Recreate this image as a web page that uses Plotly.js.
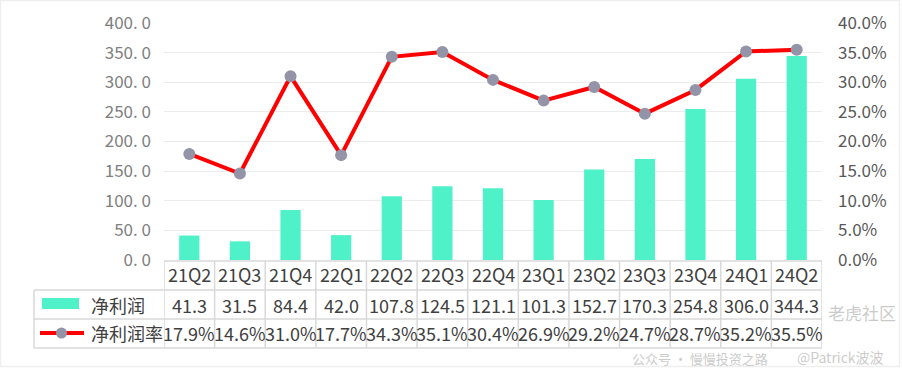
<!DOCTYPE html>
<html>
<head>
<meta charset="utf-8">
<script src="https://cdn.plot.ly/plotly-3.0.1.min.js"></script>
<style>html,body{margin:0;padding:0;background:#fff;}#chart{width:902px;height:372px;}</style>
</head>
<body>
<div id="chart"></div>
<script>
const categories = ["21Q2","21Q3","21Q4","22Q1","22Q2","22Q3","22Q4","23Q1","23Q2","23Q3","23Q4","24Q1","24Q2"];
const netProfit = [41.3, 31.5, 84.4, 42.0, 107.8, 124.5, 121.1, 101.3, 152.7, 170.3, 254.8, 306.0, 344.3];
const netMargin = [17.9, 14.6, 31.0, 17.7, 34.3, 35.1, 30.4, 26.9, 29.2, 24.7, 28.7, 35.2, 35.5];
const leftTickVals = [0, 50, 100, 150, 200, 250, 300, 350, 400];
const leftTickText = ["0. 0", "50. 0", "100. 0", "150. 0", "200. 0", "250. 0", "300. 0", "350. 0", "400. 0"];
const seriesNames = ["净利润", "净利润率"];
const watermarks = ["老虎社区", "公众号 · 慢慢投资之路", "@Patrick波波"];

const FONT = '"Microsoft YaHei", "Noto Sans CJK SC", "Noto Sans", sans-serif';
const GRID = '#d9d9d9';

const plotTop = 23, plotBottom = 260, plotH = plotBottom - plotTop;
const plotLeft = 164, plotRight = 822, plotW = plotRight - plotLeft;
const py = p => (plotBottom - p) / plotH;   // pixel row -> paper y
const px = p => (p - plotLeft) / plotW;     // pixel col -> paper x

const rowY = [261, 290, 319, 348];

const traces = [
  {
    type: 'bar', x: categories, y: netProfit, name: seriesNames[0],
    marker: {color: '#4FF2C8'}, width: 0.4, yaxis: 'y', hoverinfo: 'x+y'
  },
  {
    type: 'scatter', mode: 'lines+markers', x: categories, y: netMargin.map(v => v / 100),
    name: seriesNames[1], yaxis: 'y2',
    line: {color: '#FF0000', width: 4},
    marker: {color: '#9394A7', size: 12}
  }
];

const shapes = [];
// faint outer frame
shapes.push({type: 'rect', xref: 'paper', yref: 'paper', x0: px(0.5), x1: px(899.5), y0: py(366.5), y1: py(0.5), line: {color: '#eeeeee', width: 1.5}, fillcolor: 'rgba(0,0,0,0)', layer: 'below'});
const lineStyle = {color: GRID, width: 1.5};
// horizontal table lines
shapes.push({type: 'line', xref: 'paper', yref: 'paper', x0: 0, x1: 1, y0: py(rowY[0]), y1: py(rowY[0]), line: lineStyle});
for (let r = 1; r < rowY.length; r++) {
  shapes.push({type: 'line', xref: 'paper', yref: 'paper', x0: px(34), x1: 1, y0: py(rowY[r]), y1: py(rowY[r]), line: lineStyle});
}
// vertical table lines
shapes.push({type: 'line', xref: 'paper', yref: 'paper', x0: px(34), x1: px(34), y0: py(rowY[1]), y1: py(rowY[3]), line: lineStyle});
for (let i = 0; i <= categories.length; i++) {
  shapes.push({type: 'line', xref: 'x', yref: 'paper', x0: i - 0.5, x1: i - 0.5, y0: py(rowY[0]), y1: py(rowY[3]), line: lineStyle});
}
// legend glyphs in table
shapes.push({type: 'rect', xref: 'paper', yref: 'paper', x0: px(42), x1: px(79), y0: py(309), y1: py(298), fillcolor: '#4FF2C8', line: {width: 0}});
shapes.push({type: 'line', xref: 'paper', yref: 'paper', x0: px(40), x1: px(84), y0: py(333), y1: py(333), line: {color: '#FF0000', width: 4}});
shapes.push({type: 'circle', xref: 'paper', yref: 'paper', x0: px(56), x1: px(67), y0: py(338.5), y1: py(327.5), fillcolor: '#9394A7', line: {width: 0}});

const annotations = [];
const txt = '#404040';
annotations.push({xref: 'paper', yref: 'paper', x: px(89), y: py(304.5), xanchor: 'left', yanchor: 'middle', text: seriesNames[0], showarrow: false, font: {family: FONT, size: 18, color: txt}});
annotations.push({xref: 'paper', yref: 'paper', x: px(89), y: py(333.5), xanchor: 'left', yanchor: 'middle', text: seriesNames[1], showarrow: false, font: {family: FONT, size: 18, color: txt}});
categories.forEach((c, i) => {
  annotations.push({xref: 'x', yref: 'paper', x: i, y: py(274), xanchor: 'center', yanchor: 'middle', text: c, showarrow: false, font: {family: FONT, size: 18, color: txt}});
  annotations.push({xref: 'x', yref: 'paper', x: i, y: py(304.5), xanchor: 'center', yanchor: 'middle', text: netProfit[i].toFixed(1), showarrow: false, font: {family: FONT, size: 18, color: txt}});
  annotations.push({xref: 'x', yref: 'paper', x: i, y: py(333.5), xanchor: 'center', yanchor: 'middle', text: netMargin[i].toFixed(1) + '%', showarrow: false, font: {family: FONT, size: 18, color: txt}});
});
// watermark (kept clear of the table text)
const wm = 'rgba(150,150,150,0.5)';
annotations.push({xref: 'paper', yref: 'paper', x: px(898), y: py(312), xanchor: 'right', yanchor: 'middle', text: watermarks[0], showarrow: false, font: {family: FONT, size: 17, color: wm}});
annotations.push({xref: 'paper', yref: 'paper', x: px(770), y: py(358), xanchor: 'right', yanchor: 'middle', text: watermarks[1], showarrow: false, font: {family: FONT, size: 13, color: wm}});
annotations.push({xref: 'paper', yref: 'paper', x: px(886), y: py(357), xanchor: 'right', yanchor: 'middle', text: watermarks[2], showarrow: false, font: {family: FONT, size: 14, color: wm}});

const layout = {
  width: 902, height: 372,
  margin: {l: plotLeft, r: 902 - plotRight, t: plotTop, b: 372 - plotBottom, pad: 0},
  paper_bgcolor: '#ffffff', plot_bgcolor: '#ffffff',
  showlegend: false,
  font: {family: FONT, color: '#595959'},
  xaxis: {type: 'category', range: [-0.5, categories.length - 0.5], showticklabels: false, ticks: '', showgrid: false, zeroline: false, showline: false, fixedrange: true},
  yaxis: {range: [0, 400], tickvals: leftTickVals, ticktext: leftTickText, showgrid: true, gridcolor: '#ececec', gridwidth: 1.2, zeroline: false, showline: false, ticks: '', ticklabelstandoff: 12, tickfont: {family: FONT, size: 17, color: '#808080'}},
  yaxis2: {overlaying: 'y', side: 'right', range: [0, 0.4], dtick: 0.05, tickformat: '.1%', showgrid: false, zeroline: false, showline: false, ticks: '', ticklabelstandoff: 15, tickfont: {family: FONT, size: 17, color: '#595959'}},
  shapes: shapes,
  annotations: annotations
};

Plotly.newPlot('chart', traces, layout, {displayModeBar: false, staticPlot: true});
</script>
</body>
</html>
